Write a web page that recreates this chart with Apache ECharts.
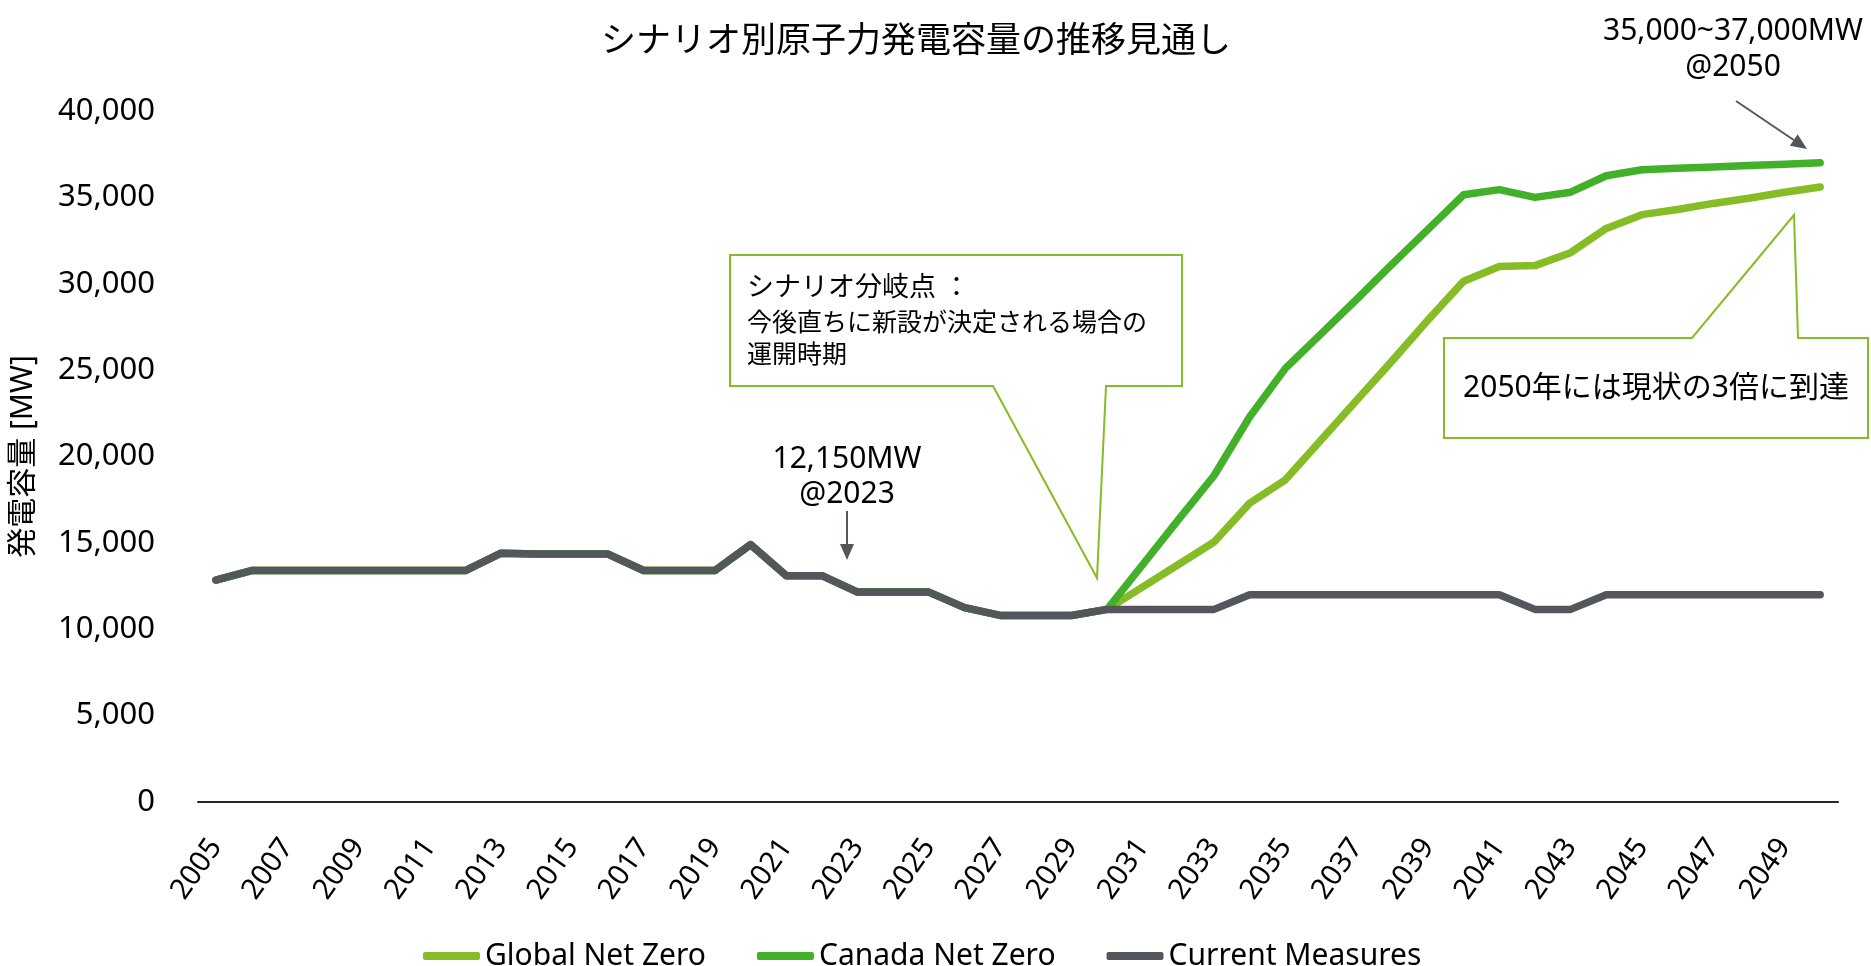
<!DOCTYPE html>
<html>
<head>
<meta charset="utf-8">
<title>シナリオ別原子力発電容量の推移見通し</title>
<script src="https://cdn.jsdelivr.net/npm/echarts@6/dist/echarts.min.js"></script>
<style>
    html, body { margin: 0; padding: 0; background: #fff; }
    #myChart { width: 1871px; height: 966px; }
</style>
</head>
<body>
<div id="myChart"></div>
<script>
    var years = ['2005', '2006', '2007', '2008', '2009', '2010', '2011', '2012', '2013', '2014',
        '2015', '2016', '2017', '2018', '2019', '2020', '2021', '2022', '2023', '2024',
        '2025', '2026', '2027', '2028', '2029', '2030', '2031', '2032', '2033', '2034',
        '2035', '2036', '2037', '2038', '2039', '2040', '2041', '2042', '2043', '2044',
        '2045', '2046', '2047', '2048', '2049', '2050'];

    // 2005-2029 actual (shared by all scenarios)
    var actualValues = [12850, 13400, 13400, 13400, 13400, 13400, 13400, 13400, 14400, 14350,
        14350, 14350, 13400, 13400, 13400, 14900, 13100, 13100, 12150, 12150,
        12150, 11250, 10800, 10800, 10800];

    // 2030-2050
    var globalNetZero = [11150, 12450, 13750, 15050, 17300, 18650, 20950, 23250, 25550, 27900,
        30150, 31000, 31050, 31800, 33200, 34000, 34300, 34650, 34950, 35300, 35600];
    var canadaNetZero = [11150, 13750, 16350, 18900, 22300, 25100, 27100, 29100, 31150, 33150,
        35150, 35450, 35000, 35300, 36250, 36600, 36680, 36760, 36840, 36920, 37000];
    var currentMeasures = [11150, 11150, 11150, 11150, 12000, 12000, 12000, 12000, 12000, 12000,
        12000, 12000, 11150, 11150, 12000, 12000, 12000, 12000, 12000, 12000, 12000];

    var seriesNames = ['Global Net Zero', 'Canada Net Zero', 'Current Measures'];
    var seriesColors = ['#86BC25', '#43B02A', '#53565A'];

    var FONT = '"Noto Sans", "Noto Sans CJK JP", sans-serif';
    var GREEN_LINE = '#86BC25';
    var GRAY = '#53565A';

    function arrow(x1, y1, x2, y2) {
        var dx = x2 - x1, dy = y2 - y1;
        var len = Math.sqrt(dx * dx + dy * dy);
        var ux = dx / len, uy = dy / len;
        var headLen = 16, half = 7;
        var bx = x2 - ux * headLen, by = y2 - uy * headLen;
        return [
            {
                type: 'line',
                shape: {x1: x1, y1: y1, x2: bx, y2: by},
                style: {stroke: GRAY, lineWidth: 2}
            },
            {
                type: 'polygon',
                shape: {points: [[x2, y2], [bx - uy * half, by + ux * half], [bx + uy * half, by - ux * half]]},
                style: {fill: GRAY}
            }
        ];
    }

    function label(text, x, y, size, align) {
        return {
            type: 'text',
            x: x,
            y: y,
            style: {
                text: text,
                fontSize: size,
                fontFamily: FONT,
                fill: '#000',
                align: align || 'center',
                verticalAlign: 'middle'
            }
        };
    }

    function callout(points) {
        return {
            type: 'polygon',
            shape: {points: points},
            style: {fill: '#fff', stroke: GREEN_LINE, lineWidth: 2}
        };
    }

    var graphics = [].concat(
        [label('12,150MW', 847, 459, 30), label('@2023', 847, 494, 30)],
        arrow(847, 511, 847, 560),
        [label('35,000~37,000MW', 1733, 31, 30), label('@2050', 1733, 67, 30)],
        arrow(1736, 101, 1807, 149),
        [
            callout([[730, 255], [1182, 255], [1182, 386], [1106, 386], [1097, 578], [993, 386], [730, 386]]),
            label('シナリオ分岐点 ：', 747, 288, 27, 'left'),
            label('今後直ちに新設が決定される場合の', 747, 324, 25, 'left'),
            label('運開時期', 747, 356, 25, 'left'),
            callout([[1444, 338], [1692, 338], [1794, 215], [1798, 338], [1868, 338], [1868, 438], [1444, 438]]),
            label('2050年には現状の3倍に到達', 1656, 388, 30)
        ]
    );

    var myChart = echarts.init(document.getElementById('myChart'));
    myChart.setOption({
        animation: false,
        textStyle: {fontFamily: FONT},
        title: {
            text: 'シナリオ別原子力発電容量の推移見通し',
            left: 596,
            top: 20,
            textStyle: {fontSize: 35, fontWeight: 'normal', color: '#000', fontFamily: FONT}
        },
        legend: {
            left: 418,
            top: 936,
            icon: 'roundRect',
            itemWidth: 57,
            itemHeight: 8,
            itemGap: 51,
            textStyle: {fontSize: 30, color: '#000', fontFamily: FONT},
            data: seriesNames
        },
        grid: {
            left: 195,
            right: 33,
            top: 111,
            bottom: 164,
            containLabel: false
        },
        xAxis: {
            type: 'category',
            boundaryGap: true,
            data: years,
            axisLine: {lineStyle: {color: '#262626', width: 2}},
            axisTick: {show: false},
            axisLabel: {
                interval: 1,
                rotate: 55,
                margin: 40,
                fontSize: 29,
                color: '#000',
                fontFamily: FONT
            },
            splitLine: {show: false}
        },
        yAxis: {
            type: 'value',
            min: 0,
            max: 40000,
            interval: 5000,
            name: '発電容量 [MW]',
            nameLocation: 'middle',
            nameGap: 160,
            nameTextStyle: {fontSize: 30, color: '#000', fontFamily: FONT},
            axisLine: {show: false},
            axisTick: {show: false},
            splitLine: {show: false},
            axisLabel: {
                margin: 43,
                fontSize: 31,
                color: '#000',
                fontFamily: FONT,
                formatter: function (v) {
                    return v.toLocaleString('en-US');
                }
            }
        },
        series: [
            {
                name: seriesNames[0],
                type: 'line',
                data: actualValues.concat(globalNetZero),
                showSymbol: false,
                color: seriesColors[0],
                lineStyle: {width: 7.5, cap: 'round', join: 'round'}
            },
            {
                name: seriesNames[1],
                type: 'line',
                data: actualValues.concat(canadaNetZero),
                showSymbol: false,
                color: seriesColors[1],
                lineStyle: {width: 7.5, cap: 'round', join: 'round'}
            },
            {
                name: seriesNames[2],
                type: 'line',
                data: actualValues.concat(currentMeasures),
                showSymbol: false,
                color: seriesColors[2],
                lineStyle: {width: 7.5, cap: 'round', join: 'round'}
            }
        ],
        graphic: graphics
    });
</script>
</body>
</html>
